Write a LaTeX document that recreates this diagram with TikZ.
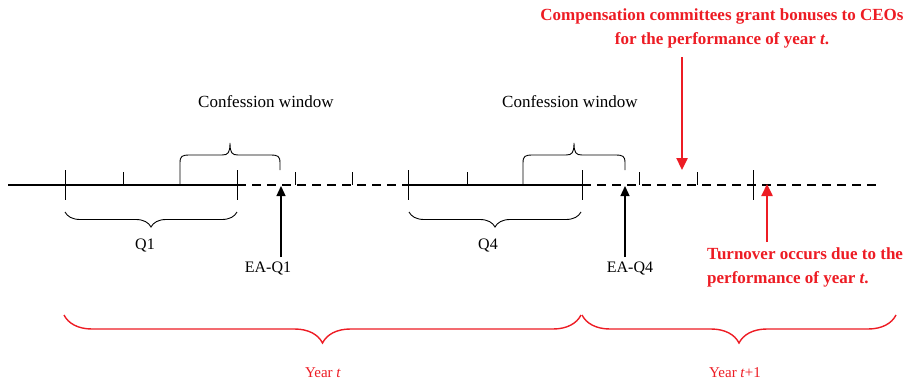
\documentclass[tikz,border=0pt]{standalone}
\usepackage{fontspec}
\setmainfont{Liberation Serif}
\usetikzlibrary{decorations.pathreplacing,arrows.meta}
\definecolor{myred}{RGB}{237,28,36}
\tikzset{
  axis/.style={line width=1.6pt},
  dashaxis/.style={line width=1.6pt, dash pattern=on 9pt off 6pt},
  tickmark/.style={line width=0.9pt},
  ubrace/.style={line width=0.9pt},
  lbrace/.style={line width=0.9pt, decorate, decoration={brace, mirror, amplitude=15pt}},
  rbrace/.style={line width=1.4pt, draw=myred, decorate, decoration={brace, mirror, amplitude=28pt}},
  blk/.style={inner sep=1pt, font=\fontsize{16}{19}\selectfont},
  cwtxt/.style={inner sep=1pt, font=\fontsize{17}{20}\selectfont},
  redtxt/.style={inner sep=1pt, text=myred, font=\bfseries\fontsize{17}{24}\selectfont},
  yrtxt/.style={inner sep=1pt, text=myred, font=\fontsize{15}{18}\selectfont},
  eaarrow/.style={line width=1.3pt, -{Triangle[length=10pt,width=9pt]}},
  redarrow/.style={line width=2.4pt, draw=myred, -{Triangle[length=12pt,width=11pt]}}
}
\begin{document}
\begin{tikzpicture}[x=1pt,y=-1pt]
\useasboundingbox (0,0) rectangle (912,383);

% time line
\draw[axis] (8,185) -- (237,185);
\draw[dashaxis] (237,185) -- (408,185);
\draw[axis] (408,185) -- (582,185);
\draw[dashaxis] (582,185) -- (878,185);

% ticks
\foreach \x in {65,237,408,582,753} \draw[tickmark] (\x,170) -- (\x,200);
\foreach \x in {123,295,352,467,639,697} \draw[tickmark] (\x,172) -- (\x,185);

% confession window braces
\draw[ubrace] (180,185) -- (180,163) .. controls (180,156) and (182,155) .. (190,155)
  -- (222,155) .. controls (228,155) and (230,153) .. (230,143)
  .. controls (230,153) and (232,155) .. (238,155)
  -- (270,155) .. controls (278,155) and (280,156) .. (280,163) -- (280,170);
\draw[ubrace] (523,185) -- (523,163) .. controls (523,156) and (525,155) .. (533,155)
  -- (566,155) .. controls (572,155) and (574,153) .. (574,143)
  .. controls (574,153) and (576,155) .. (582,155)
  -- (615,155) .. controls (623,155) and (625,156) .. (625,163) -- (625,170);
\node[cwtxt] (cw1) at (266,102) {Confession window};
\node[cwtxt] (cw2) at (570,102) {Confession window};

% quarter braces
\draw[lbrace] (65,212) -- (237,212);
\draw[lbrace] (409,212) -- (581,212);
\node[blk] (q1) at (145,245) {Q1};
\node[blk] (q4) at (488,245) {Q4};

% earnings announcements
\node[blk] (ea1) at (268,268) {EA-Q1};
\node[blk] (ea4) at (630,268) {EA-Q4};
\coordinate (e1) at (281,186);
\coordinate (e4) at (625,186);
\draw[eaarrow] (e1 |- 0,257) -- (e1);
\draw[eaarrow] (e4 |- 0,257) -- (e4);

% compensation
\node[redtxt, align=center] (comp) at (722,28) {Compensation committees grant bonuses to CEOs\\for the performance of year \textit{t}.};
\coordinate (cp) at (682,170);
\draw[redarrow] (cp |- 0,57) -- (cp);

% turnover
\node[redtxt, align=left, anchor=north west] (turn) at (706,246) {Turnover occurs due to the\\performance of year \textit{t}.};
\coordinate (tp) at (767,184);
\draw[redarrow] (tp |- 0,242) -- (tp);

% years
\draw[rbrace] (64,315) -- (581,315);
\draw[rbrace] (582,315) -- (896,315);
\node[yrtxt] (y1) at (323,373) {Year \textit{t}};
\node[yrtxt] (y2) at (735,373) {Year \textit{t}+1};
\end{tikzpicture}
\end{document}
